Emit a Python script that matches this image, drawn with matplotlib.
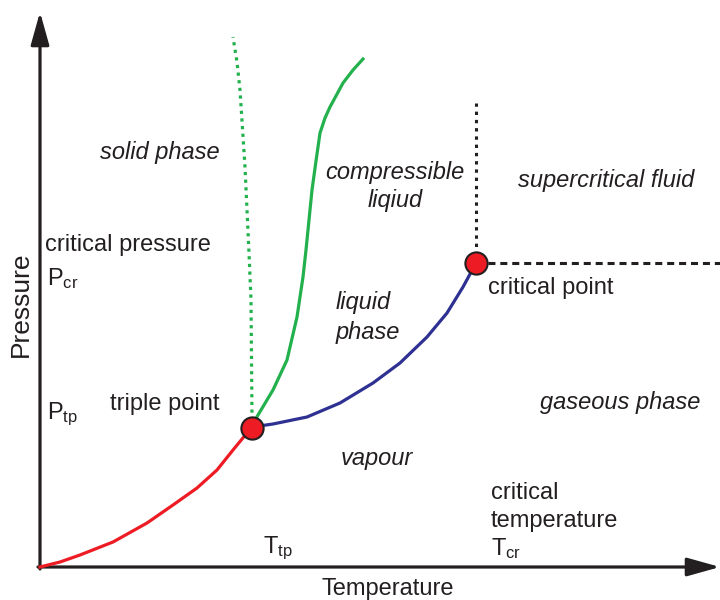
import matplotlib
matplotlib.use("Agg")
import matplotlib.pyplot as plt

# ---- data (temperature, pressure in arbitrary diagram units) ----
triple_point = (212, 139)
critical_point = (436, 304)

sublimation_T = [0, 20, 40, 73, 107, 133, 157, 177, 193, 207, 212]
sublimation_P = [0, 5, 12, 25, 44, 62, 79, 97, 117, 134, 139]

vaporization_T = [212, 233, 267, 300, 333, 360, 387, 407, 423, 436]
vaporization_P = [140, 143, 150, 164, 184, 204, 230, 254, 280, 304]

melting_T = [212, 215, 224, 233, 247, 257, 263, 266, 269, 272, 276, 280, 285, 290, 303, 313, 323]
melting_P = [139, 147, 162, 177, 207, 250, 290, 317, 347, 377, 406, 434, 449, 460, 484, 497, 508]

melting_anom_T = [212, 212, 211, 209, 205, 200, 197, 193]
melting_anom_P = [139, 150, 267, 314, 400, 477, 505, 530]

crit_vert_T = [436, 436]
crit_vert_P = [304, 464]
crit_horiz_T = [436, 680]
crit_horiz_P = [304, 304]

TEXT = '#231f20'
plt.rcParams['font.family'] = ['Liberation Sans', 'DejaVu Sans']
plt.rcParams['mathtext.fontset'] = 'custom'
plt.rcParams['mathtext.rm'] = 'Liberation Sans'
plt.rcParams['mathtext.default'] = 'regular'

fig = plt.figure(figsize=(7.2, 6), dpi=100)
ax = fig.add_axes([0, 0, 1, 1])
ax.set_xlim(-40, 680)
ax.set_ylim(-33, 567)
ax.axis('off')

# axes arrows
ax.annotate('', xy=(680, 0), xytext=(-2, 0),
            arrowprops=dict(arrowstyle='-|>,head_length=1.0,head_width=0.28',
                            lw=2.3, color=TEXT, mutation_scale=20, shrinkA=0, shrinkB=0))
ax.annotate('', xy=(0, 555), xytext=(0, -2),
            arrowprops=dict(arrowstyle='-|>,head_length=1.0,head_width=0.28',
                            lw=2.3, color=TEXT, mutation_scale=20, shrinkA=0, shrinkB=0))

# curves
ax.plot(sublimation_T, sublimation_P, color='#ed1c24', lw=2.3, solid_joinstyle='round', zorder=3)
ax.plot(vaporization_T, vaporization_P, color='#2e3192', lw=2.3, solid_joinstyle='round', zorder=3)
ax.plot(melting_T, melting_P, color='#22b14c', lw=2.3, solid_joinstyle='round', zorder=3)
ax.plot(melting_anom_T, melting_anom_P, color='#22b14c', lw=2.3, ls=(0, (1.0, 1.4)), zorder=3)
ax.plot(crit_vert_T, crit_vert_P, color=TEXT, lw=2.2, ls=(0, (1.1, 1.6)), zorder=2)
ax.plot(crit_horiz_T, crit_horiz_P, color=TEXT, lw=2.2, ls=(0, (2.3, 1.6)), zorder=2)

# points
for pt in (triple_point, critical_point):
    ax.plot(*pt, 'o', ms=16, mfc='#ed1c24', mec=TEXT, mew=1.5, zorder=5)

fs = 17
it = dict(fontsize=fs, color=TEXT, style='italic', va='center')
rg = dict(fontsize=fs, color=TEXT, va='center')

def pos(x, y):
    return (x - 40, 567 - y)

ax.text(*pos(100, 152), 'solid phase', ha='left', **it)
ax.text(*pos(395, 172), 'compressible', ha='center', **it)
ax.text(*pos(395, 200), 'liqiud', ha='center', **it)
ax.text(*pos(518, 180), 'supercritical fluid', ha='left', **it)
ax.text(*pos(336, 302), 'liquid', ha='left', **it)
ax.text(*pos(336, 332), 'phase', ha='left', **it)
ax.text(*pos(540, 402), 'gaseous phase', ha='left', **it)
ax.text(*pos(341, 458), 'vapour', ha='left', **it)

ax.text(*pos(45, 245), 'critical pressure', ha='left', **rg)
ax.text(*pos(47, 279), r'P$_{cr}$', ha='left', **rg)
ax.text(*pos(488, 288), 'critical point', ha='left', **rg)
ax.text(*pos(110, 404), 'triple point', ha='left', **rg)
ax.text(*pos(47, 414), r'P$_{tp}$', ha='left', **rg)
ax.text(*pos(491, 493), 'critical', ha='left', **rg)
ax.text(*pos(491, 521), 'temperature', ha='left', **rg)
ax.text(*pos(491, 549), r'T$_{cr}$', ha='left', **rg)
ax.text(*pos(263, 548), r'T$_{tp}$', ha='left', **rg)

ax.text(*pos(388, 589), 'Temperature', ha='center', **rg)
ax.text(*pos(21, 304), 'Pressure', ha='center', rotation=90,
        fontsize=19, color=TEXT, va='center')

fig.savefig('out.png', dpi=100)
